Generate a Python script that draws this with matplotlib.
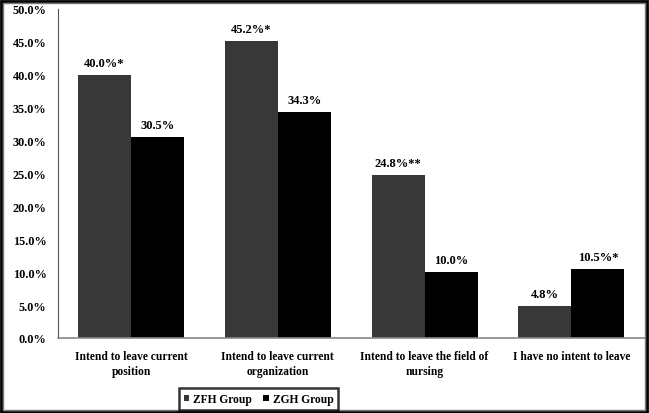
import matplotlib
matplotlib.use("Agg")
import matplotlib.pyplot as plt
from matplotlib.patches import Rectangle
from matplotlib.ticker import MultipleLocator, FuncFormatter
import numpy as np

categories = ["Intend to leave current\nposition", "Intend to leave current\norganization",
              "Intend to leave the field of\nnursing", "I have no intent to leave"]
zfh = [40.0, 45.2, 24.8, 4.8]
zgh = [30.5, 34.3, 10.0, 10.5]
zfh_labels = ["40.0%*", "45.2%*", "24.8%**", "4.8%"]
zgh_labels = ["30.5%", "34.3%", "10.0%", "10.5%*"]
series_names = ["ZFH Group", "ZGH Group"]

plt.rcParams['font.family'] = ['Liberation Serif', 'DejaVu Serif']
plt.rcParams['font.weight'] = 'bold'

W, H = 649, 414
fig = plt.figure(figsize=(W/100, H/100), dpi=100)
ax = fig.add_axes([57.7/W, (H-339)/H, 587/W, 329/H])

x = np.arange(len(categories))
bw = 0.361
b1 = ax.bar(x - bw/2, zfh, bw, color="#383838", label=series_names[0])
b2 = ax.bar(x + bw/2, zgh, bw, color="#000000", label=series_names[1])
for rect, lab in zip(b1, zfh_labels):
    ax.text(rect.get_x()+rect.get_width()/2, rect.get_height()+0.9, lab,
            ha='center', va='bottom', fontsize=9, fontweight='bold')
for rect, lab in zip(b2, zgh_labels):
    ax.text(rect.get_x()+rect.get_width()/2, rect.get_height()+0.9, lab,
            ha='center', va='bottom', fontsize=9, fontweight='bold')

ax.set_xlim(-0.5, 3.5)
ax.set_ylim(0, 50)
ax.yaxis.set_major_locator(MultipleLocator(5))
ax.yaxis.set_major_formatter(FuncFormatter(lambda v, p: f"{v:.1f}%"))
ax.set_xticks(x)
ax.set_xticklabels(categories, fontsize=8.3, fontweight='bold', linespacing=1.3)
for t in ax.get_yticklabels():
    t.set_fontsize(8.8); t.set_fontweight('bold')
ax.tick_params(axis='y', length=0, pad=8)
ax.tick_params(axis='x', length=0, pad=9)
ax.spines['top'].set_visible(False)
ax.spines['right'].set_visible(False)
ax.spines['left'].set_color('#555555')
ax.spines['bottom'].set_color('#888888')
ax.spines['bottom'].set_linewidth(1.2)

leg = fig.legend(handles=[b1, b2], labels=series_names, loc='center',
                 bbox_to_anchor=(258.5/W, (H-400)/H), ncol=2, frameon=True,
                 fancybox=False, edgecolor='black', fontsize=8.3,
                 handlelength=0.5, handleheight=0.5, handletextpad=0.3,
                 columnspacing=1.0, borderpad=0.4, borderaxespad=0)
leg.get_frame().set_linewidth(1.8)

# figure border
fig.patches.append(Rectangle((1/W, 1/H), (W-3)/W, (H-3)/H, transform=fig.transFigure,
                             fill=False, edgecolor='black', linewidth=2.0))
fig.patches.append(Rectangle((3/W, 3/H), (W-7)/W, (H-7)/H, transform=fig.transFigure,
                             fill=False, edgecolor='#777777', linewidth=1.0))

fig.savefig("out.png", dpi=100)
